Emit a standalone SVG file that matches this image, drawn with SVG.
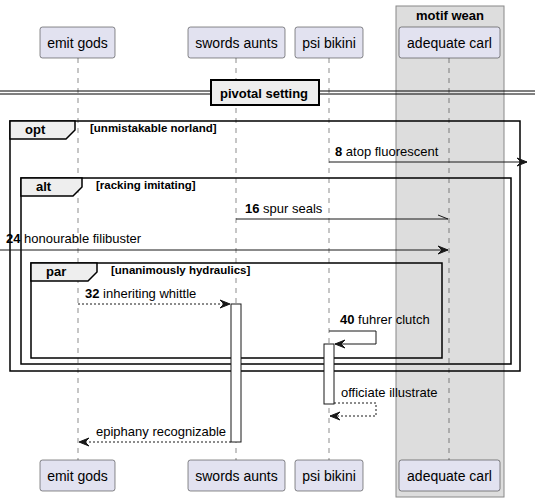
<svg xmlns="http://www.w3.org/2000/svg" width="535" height="499" viewBox="0 0 535 499">
<style>
.part rect{fill:#E2E2F0;stroke:#181818;stroke-width:0.5}
.part text{font-family:"Liberation Sans",Arial,sans-serif;font-size:14px;fill:#000;text-anchor:middle}
.life{stroke:#181818;stroke-width:0.5;stroke-dasharray:5,5}
.frame{fill:none;stroke:#000;stroke-width:1.5}
.tab{fill:#EEEEEE;stroke:#000;stroke-width:1.5}
.ftitle{font-family:"Liberation Sans",Arial,sans-serif;font-size:13px;font-weight:bold;fill:#000}
.cond{font-family:"Liberation Sans",Arial,sans-serif;font-size:11.5px;font-weight:bold;fill:#000}
.msg{stroke:#181818;stroke-width:1;fill:none}
.dash{stroke-dasharray:2,2}
.head{fill:#181818;stroke:#181818;stroke-width:1}
.mt{font-family:"Liberation Sans",Arial,sans-serif;font-size:13px;fill:#000}
.act{fill:#FFFFFF;stroke:#181818;stroke-width:1}
</style>
<g id="box-motif-wean">
<rect x="396" y="6" width="108" height="491" fill="#DDDDDD" stroke="#888888" stroke-width="1"/>
<text x="450" y="20" font-family="Liberation Sans,Arial,sans-serif" font-size="13" font-weight="bold" text-anchor="middle">motif wean</text>
</g>
<g id="lifelines">
<line class="life" x1="78" y1="58" x2="78" y2="460"/>
<line class="life" x1="236" y1="58" x2="236" y2="460"/>
<line class="life" x1="329" y1="58" x2="329" y2="460"/>
<line class="life" x1="449" y1="58" x2="449" y2="460"/>
</g>
<g id="divider">
<line x1="0" y1="91" x2="535" y2="91" stroke="#000" stroke-width="1"/>
<line x1="0" y1="94" x2="535" y2="94" stroke="#000" stroke-width="1"/>
<rect x="211" y="80" width="108" height="25" fill="#EEEEEE" stroke="#000" stroke-width="2"/>
<text x="264" y="98" class="ftitle" text-anchor="middle">pivotal setting</text>
</g>
<g id="frame-opt">
<rect class="frame" x="10" y="121" width="510" height="250"/>
<polygon class="tab" points="10,121 75,121 75,130 66,139 10,139"/>
<text class="ftitle" x="25" y="134">opt</text>
<text class="cond" x="90" y="132">[unmistakable norland]</text>
</g>
<g id="frame-alt">
<rect class="frame" x="21" y="178" width="490" height="186"/>
<polygon class="tab" points="21,178 82,178 82,187 73,196 21,196"/>
<text class="ftitle" x="36" y="191">alt</text>
<text class="cond" x="96" y="189">[racking imitating]</text>
</g>
<g id="frame-par">
<rect class="frame" x="31" y="263" width="411" height="95"/>
<polygon class="tab" points="31,263 97,263 97,272 88,281 31,281"/>
<text class="ftitle" x="46" y="276">par</text>
<text class="cond" x="111" y="274">[unanimously hydraulics]</text>
</g>
<g id="activations">
<rect class="act" x="231" y="304" width="10" height="138"/>
<rect class="act" x="324" y="344" width="10" height="60"/>
</g>
<g id="connectors">
<line class="msg" x1="329" y1="162" x2="527" y2="162"/>
<polygon class="head" points="517,158 527,162 517,166 521,162"/>
<text class="mt" x="335" y="156"><tspan font-weight="bold">8</tspan> atop fluorescent</text>

<line class="msg" x1="236" y1="219" x2="448" y2="219"/>
<line class="msg" x1="448" y1="219" x2="438" y2="215"/>
<text class="mt" x="245" y="213"><tspan font-weight="bold">16</tspan> spur seals</text>

<line class="msg" x1="0" y1="250" x2="448" y2="250"/>
<polygon class="head" points="438,246 448,250 438,254 442,250"/>
<text class="mt" x="6" y="243"><tspan font-weight="bold">24</tspan> honourable filibuster</text>

<line class="msg dash" x1="78" y1="304" x2="230" y2="304"/>
<polygon class="head" points="220,300 230,304 220,308 224,304"/>
<text class="mt" x="85" y="298"><tspan font-weight="bold">32</tspan> inheriting whittle</text>

<polyline class="msg" points="329,331 376,331 376,344 335,344"/>
<polygon class="head" points="345,340 335,344 345,348 341,344"/>
<text class="mt" x="340" y="324"><tspan font-weight="bold">40</tspan> fuhrer clutch</text>

<polyline class="msg dash" points="334,403 376,403 376,416 330,416"/>
<polygon class="head" points="340,412 330,416 340,420 336,416"/>
<text class="mt" x="341" y="397">officiate illustrate</text>

<line class="msg dash" x1="231" y1="442" x2="79" y2="442"/>
<polygon class="head" points="89,438 79,442 89,446 85,442"/>
<text class="mt" x="96" y="436">epiphany recognizable</text>
</g>
<g id="p-emit-gods" class="part">
<rect x="40" y="27" width="75" height="31" rx="2.5"/><text x="77.5" y="48">emit gods</text>
<rect x="40" y="460" width="75" height="31" rx="2.5"/><text x="77.5" y="481">emit gods</text>
</g>
<g id="p-swords-aunts" class="part">
<rect x="188" y="27" width="97" height="31" rx="2.5"/><text x="236.5" y="48">swords aunts</text>
<rect x="188" y="460" width="97" height="31" rx="2.5"/><text x="236.5" y="481">swords aunts</text>
</g>
<g id="p-psi-bikini" class="part">
<rect x="295" y="27" width="68" height="31" rx="2.5"/><text x="329" y="48">psi bikini</text>
<rect x="295" y="460" width="68" height="31" rx="2.5"/><text x="329" y="481">psi bikini</text>
</g>
<g id="p-adequate-carl" class="part">
<rect x="399" y="27" width="101" height="31" rx="2.5"/><text x="449.5" y="48">adequate carl</text>
<rect x="399" y="460" width="101" height="31" rx="2.5"/><text x="449.5" y="481">adequate carl</text>
</g>
</svg>
